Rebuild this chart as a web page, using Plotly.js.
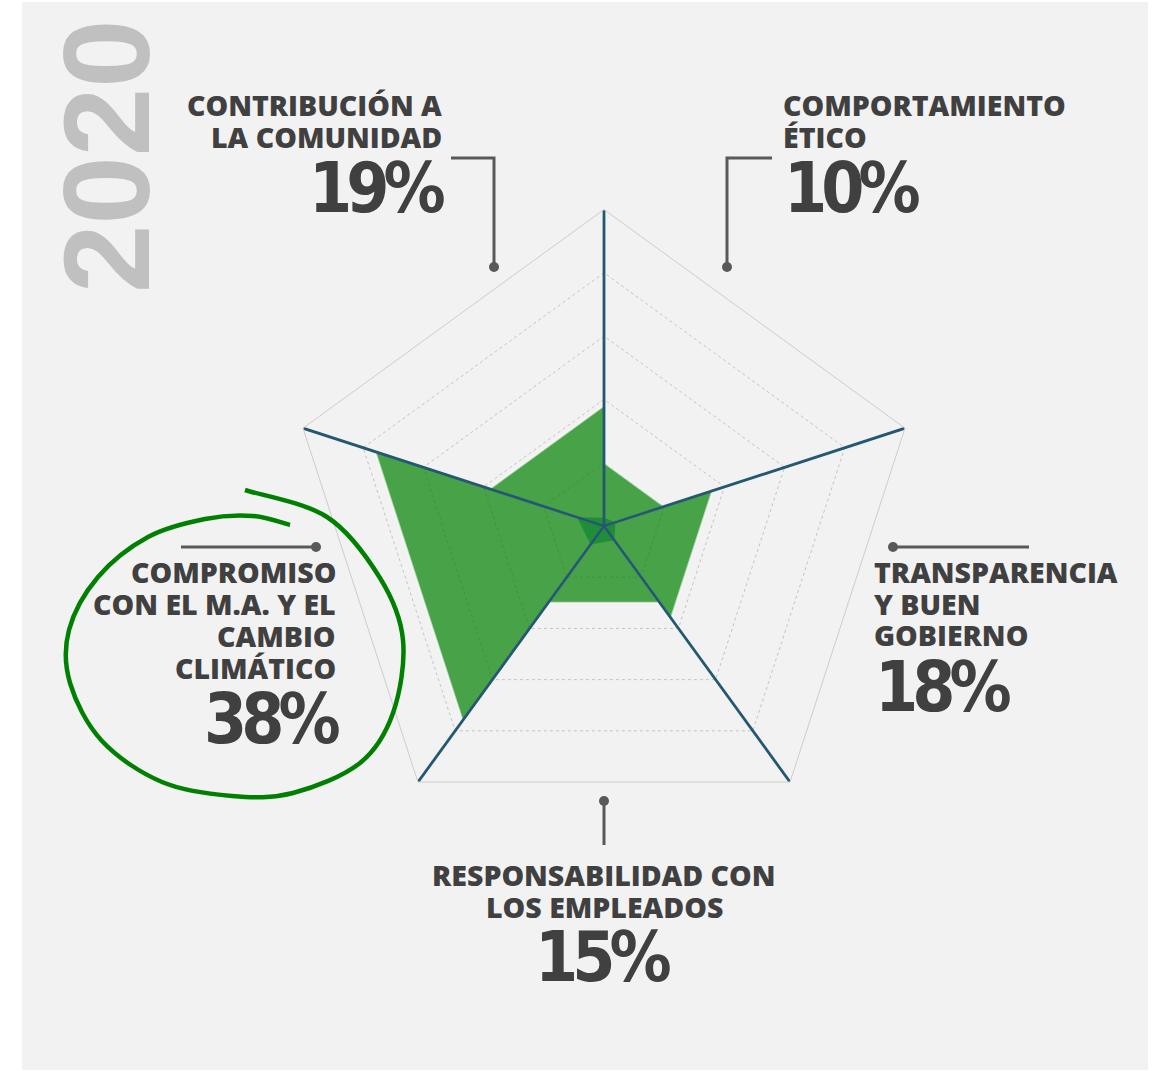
<!DOCTYPE html>
<html>
<head>
<meta charset="utf-8">
<script src="https://cdn.plot.ly/plotly-3.0.1.min.js"></script>
<style>
  html, body { margin: 0; padding: 0; background: #fff; }
  #radar { width: 1158px; height: 1071px; }
</style>
</head>
<body>
<div id="radar"></div>
<script>
// ===== Datos =====
const CATEGORIAS = [
  'Contribución a la comunidad',
  'Compromiso con el M.A. y el cambio climático',
  'Responsabilidad con los empleados',
  'Transparencia y buen gobierno',
  'Comportamiento ético'
];
const PORCENTAJES = [19, 38, 15, 18, 10];
// pequeña área oscura junto al centro
const NUCLEO = [1.3, 4.5, 3.6, 2.8, 1.9];
const ETIQUETAS = [
  ['CONTRIBUCIÓN A', 'LA COMUNIDAD'],
  ['COMPROMISO', 'CON EL M.A. Y EL', 'CAMBIO', 'CLIMÁTICO'],
  ['RESPONSABILIDAD CON', 'LOS EMPLEADOS'],
  ['TRANSPARENCIA', 'Y BUEN', 'GOBIERNO'],
  ['COMPORTAMIENTO', 'ÉTICO']
];
const ANIO = '2020';
const R_MAX = 50;

// ===== Geometría (px) =====
const W = 1158, H = 1071;
const px = x => x / W;
const py = y => 1 - y / H;
const CX = 604, CY = 526, RAD = 316.5;

const GRIS_TXT = '#404040';
const FUENTE = 'Open Sans, Noto Sans, sans-serif';
const FUENTE_NUM = 'DejaVu Sans Condensed, sans-serif';

// posición de cada etiqueta: x ancla, alineación, centros de línea, centro del número
const POS = [
  { x: 443, anchor: 'right',  lineas: [105, 136.5],              xn: 445, yn: 188 },
  { x: 337, anchor: 'right',  lineas: [572, 604, 636, 667.5],    xn: 340, yn: 719 },
  { x: 604, anchor: 'center', lineas: [875, 906.5],              xn: 602, yn: 957 },
  { x: 873, anchor: 'left',   lineas: [572, 603.5, 635],         xn: 874, yn: 687 },
  { x: 782, anchor: 'left',   lineas: [105, 136.5],              xn: 783, yn: 188 }
];
const GUIAS = [
  { pts: [[451, 158], [494, 158], [494, 267]], dot: [494, 267] },
  { pts: [[181, 547], [316, 547]],             dot: [316, 547] },
  { pts: [[604, 845], [604, 801]],             dot: [604, 801] },
  { pts: [[1029, 547], [893, 547]],            dot: [893, 547] },
  { pts: [[772, 158], [727, 158], [727, 267]], dot: [727, 267] }
];
// trazo a mano alrededor del compromiso climático
const TRAZO = [[245, 490], [327, 517], [380, 578], [403, 640], [393, 713], [360, 763], [293, 793],
  [232, 796], [162, 782], [102, 741], [70, 683], [69, 630], [98, 577], [148, 537], [205, 519],
  [253, 516], [290, 525]];

function pathLineas(pts) {
  return pts.map((p, i) => (i ? 'L' : 'M') + px(p[0]) + ',' + py(p[1])).join(' ');
}
function pathSuave(pts) {
  let d = 'M' + px(pts[0][0]) + ',' + py(pts[0][1]);
  for (let i = 0; i < pts.length - 1; i++) {
    const p0 = pts[Math.max(i - 1, 0)], p1 = pts[i], p2 = pts[i + 1], p3 = pts[Math.min(i + 2, pts.length - 1)];
    const c1 = [p1[0] + (p2[0] - p0[0]) / 6, p1[1] + (p2[1] - p0[1]) / 6];
    const c2 = [p2[0] - (p3[0] - p1[0]) / 6, p2[1] - (p3[1] - p1[1]) / 6];
    d += ' C' + px(c1[0]) + ',' + py(c1[1]) + ' ' + px(c2[0]) + ',' + py(c2[1]) + ' ' + px(p2[0]) + ',' + py(p2[1]);
  }
  return d;
}

// ===== Trazas =====
// cada categoría ocupa la cuña entre su eje y el siguiente
const cunaTheta = [], cunaR = [];
CATEGORIAS.forEach((c, i) => {
  const sig = CATEGORIAS[(i + 1) % CATEGORIAS.length];
  cunaTheta.push(c, c, sig, sig, c);
  cunaR.push(0, PORCENTAJES[i], PORCENTAJES[i], 0, null);
});
const trazaCunas = {
  type: 'scatterpolar', mode: 'lines',
  r: cunaR, theta: cunaTheta, connectgaps: false,
  fill: 'toself', fillcolor: 'rgba(0,128,0,0.7)',
  line: { color: 'rgba(255,255,255,0.6)', width: 2 },
  hoverinfo: 'skip'
};
const trazaNucleo = {
  type: 'scatterpolar', mode: 'lines',
  r: NUCLEO.concat(NUCLEO[0]), theta: CATEGORIAS.concat(CATEGORIAS[0]),
  fill: 'toself', fillcolor: 'rgba(0,125,45,0.55)', line: { width: 0 },
  hoverinfo: 'skip'
};
const trazaEjes = {
  type: 'scatterpolar', mode: 'lines',
  r: CATEGORIAS.flatMap(() => [0, R_MAX, null]),
  theta: CATEGORIAS.flatMap(c => [c, c, c]),
  connectgaps: false,
  line: { color: '#245870', width: 2.8 },
  hoverinfo: 'skip'
};

// ===== Anotaciones y formas =====
const anotaciones = [];
ETIQUETAS.forEach((lineas, i) => {
  const p = POS[i];
  lineas.forEach((txt, j) => {
    anotaciones.push({
      xref: 'paper', yref: 'paper', x: px(p.x), y: py(p.lineas[j]),
      xanchor: p.anchor, yanchor: 'middle', showarrow: false, borderpad: 0,
      text: txt, font: { family: FUENTE, size: 28.5, color: GRIS_TXT, weight: 800 }
    });
  });
  anotaciones.push({
    xref: 'paper', yref: 'paper', x: px(p.xn), y: py(p.yn),
    xanchor: p.anchor, yanchor: 'middle', showarrow: false, borderpad: 0,
    text: '<span style="letter-spacing:-6px">' + PORCENTAJES[i] + '%</span>',
    font: { family: FUENTE_NUM, size: 69, color: GRIS_TXT, weight: 700 }
  });
});
anotaciones.push({
  xref: 'paper', yref: 'paper', x: px(106), y: py(156),
  xanchor: 'center', yanchor: 'middle', showarrow: false, textangle: -90,
  text: ANIO, font: { family: 'Liberation Sans, Arial, sans-serif', size: 123, color: '#c0c0c0', weight: 700 }
});

const formas = [
  { type: 'rect', xref: 'paper', yref: 'paper', x0: px(22), x1: px(1148), y0: py(1070), y1: py(2),
    fillcolor: '#f2f2f2', line: { width: 0 }, layer: 'below' }
];
GUIAS.forEach(g => {
  formas.push({ type: 'path', xref: 'paper', yref: 'paper', path: pathLineas(g.pts),
    line: { color: '#595959', width: 3 } });
  formas.push({ type: 'circle', xref: 'paper', yref: 'paper',
    x0: px(g.dot[0] - 5), x1: px(g.dot[0] + 5), y0: py(g.dot[1] + 5), y1: py(g.dot[1] - 5),
    fillcolor: '#595959', line: { width: 0 } });
});
formas.push({ type: 'path', xref: 'paper', yref: 'paper', path: pathSuave(TRAZO),
  line: { color: '#008000', width: 4.5 } });

const layout = {
  width: W, height: H,
  margin: { l: 0, r: 0, t: 0, b: 0 },
  paper_bgcolor: '#fff',
  showlegend: false,
  polar: {
    domain: { x: [px(CX - RAD), px(CX + RAD)], y: [py(CY + RAD), py(CY - RAD)] },
    bgcolor: 'rgba(0,0,0,0)',
    gridshape: 'linear',
    angularaxis: {
      type: 'category', categoryarray: CATEGORIAS, rotation: 90, direction: 'counterclockwise',
      showticklabels: false, ticks: '', showgrid: false,
      showline: true, linecolor: '#cdcdcd', linewidth: 1
    },
    radialaxis: {
      range: [0, R_MAX], dtick: 10, showticklabels: false, ticks: '', showline: false,
      gridcolor: '#c4c4c4', gridwidth: 1, griddash: 'dot'
    }
  },
  annotations: anotaciones,
  shapes: formas
};

Plotly.newPlot('radar', [trazaCunas, trazaNucleo, trazaEjes], layout, { displayModeBar: false, staticPlot: true });
</script>
</body>
</html>
